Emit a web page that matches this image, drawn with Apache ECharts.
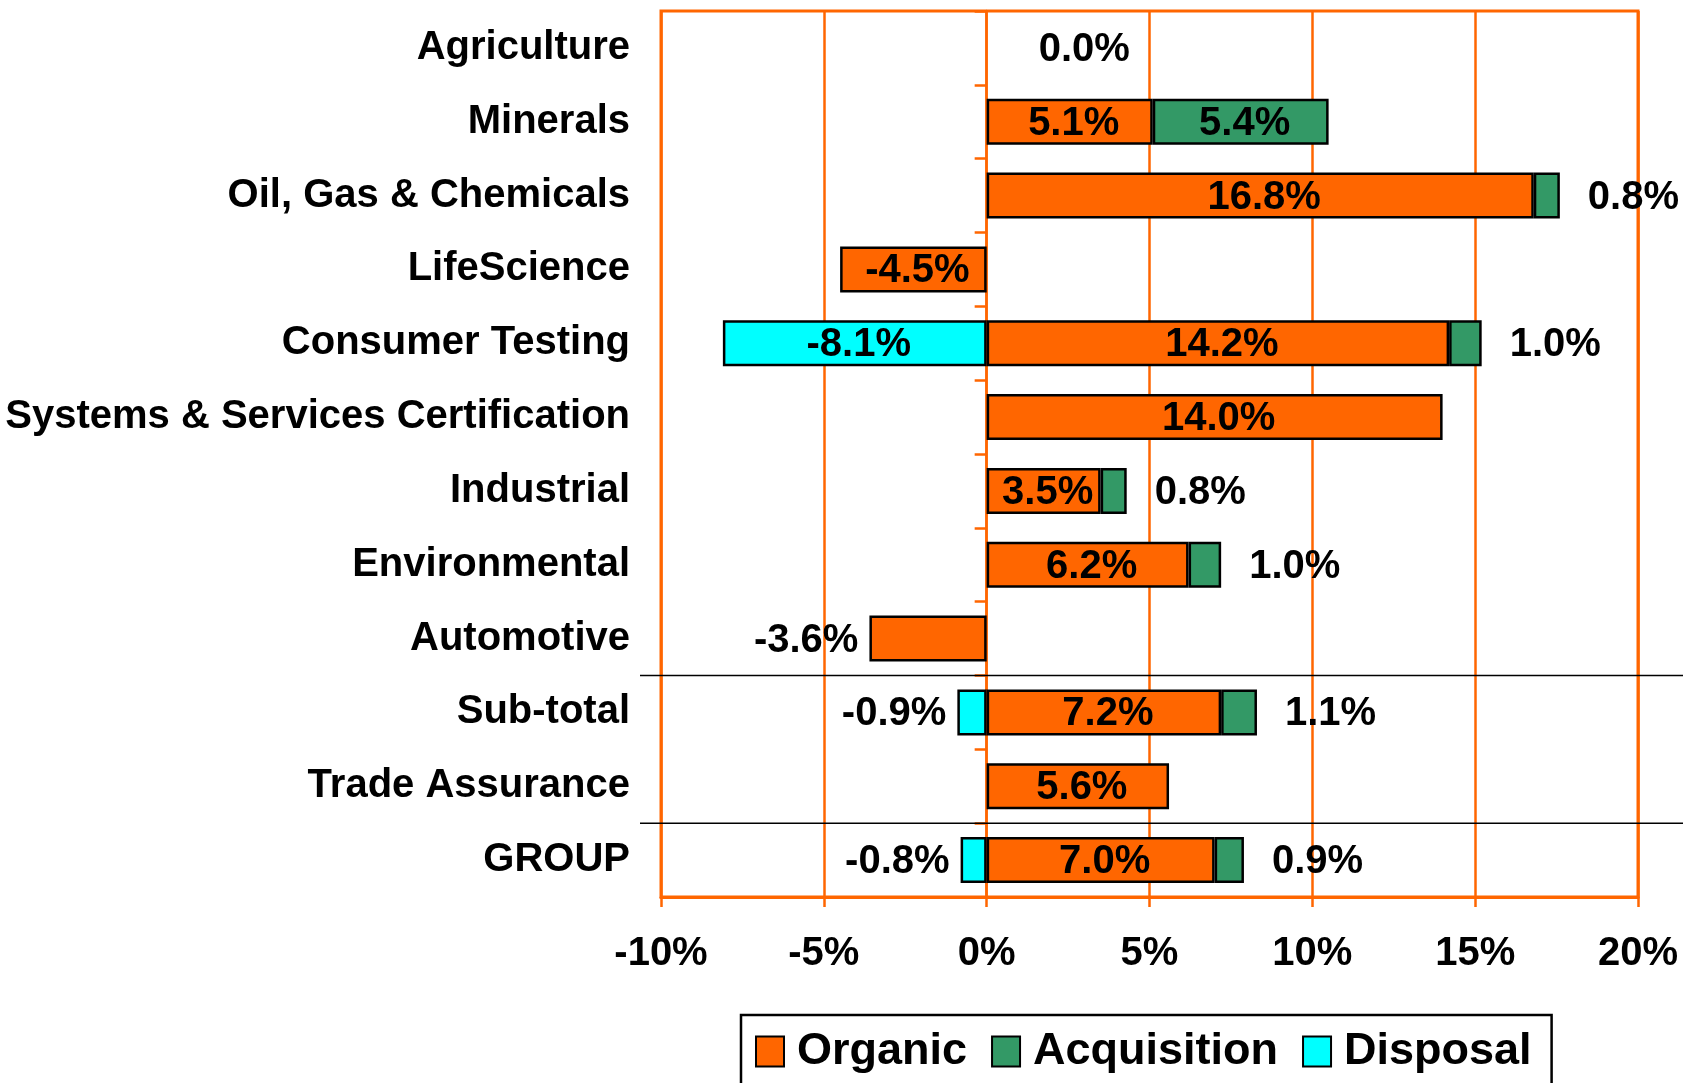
<!DOCTYPE html>
<html lang="en">
<head>
    <meta charset="UTF-8">
    <title>Growth by business line</title>
    <script type="text/javascript" src="https://cdn.jsdelivr.net/npm/echarts@6/dist/echarts.min.js"></script>
    <style>
        html, body { margin: 0; padding: 0; background: #fff; }
        #main { width: 1683px; height: 1083px; }
    </style>
</head>
<body>
<div id="main"></div>
<script type="text/javascript">
    var categories = ['Agriculture', 'Minerals', 'Oil, Gas & Chemicals', 'LifeScience', 'Consumer Testing',
        'Systems & Services Certification', 'Industrial', 'Environmental', 'Automotive', 'Sub-total',
        'Trade Assurance', 'GROUP'];
    var organic = [0.0, 5.1, 16.8, -4.5, 14.2, 14.0, 3.5, 6.2, -3.6, 7.2, 5.6, 7.0];
    var acquisition = [null, 5.4, 0.8, null, 1.0, null, 0.8, 1.0, null, 1.1, null, 0.9];
    var disposal = [null, null, null, null, -8.1, null, null, null, null, -0.9, null, -0.8];
    var xTicks = [-10, -5, 0, 5, 10, 15, 20];

    var FONT = '"Liberation Sans", Arial, sans-serif';
    var ORANGE = '#FF6600';

    // label placement: inside when it fits, else beside the bar
    function buildData(values) {
        var out = [];
        for (var i = 0; i < values.length; i++) {
            var v = values[i];
            if (v === null) { out.push(null); continue; }
            var item = { value: v };
            if (v === 0) {
                item.label = { position: 'right', distance: 48 };
                item.itemStyle = { borderWidth: 0 };
            } else if (v > 0 && v < 2) {
                item.label = { position: 'right', distance: 24 };
            } else if (v < 0 && v > -4) {
                item.label = { position: 'left', distance: 15 };
            }
            out.push(item);
        }
        return out;
    }

    function makeSeries(name, values, color) {
        return {
            name: name,
            type: 'bar',
            stack: 'total',
            barWidth: 46,
            data: buildData(values),
            itemStyle: { color: color, borderColor: '#000', borderWidth: 2.5 },
            label: {
                show: true,
                position: 'inside',
                offset: [4, 2],
                color: '#000',
                fontFamily: FONT,
                fontWeight: 'bold',
                fontSize: 40,
                formatter: function (p) { return p.value.toFixed(1) + '%'; }
            }
        };
    }

    var chart = echarts.init(document.getElementById('main'));
    var option = {
        animation: false,
        grid: {
            left: 661, right: 45, top: 11, height: 886,
            containLabel: false, outerBoundsMode: 'none',
            show: true, borderColor: ORANGE, borderWidth: 3
        },
        legend: {
            left: 741,
            top: 1015,
            data: ['Organic', 'Acquisition', 'Disposal'],
            icon: 'rect',
            itemWidth: 28,
            itemHeight: 30,
            itemGap: 24,
            padding: [14, 20, 40, 14],
            borderColor: '#000',
            borderWidth: 2.5,
            backgroundColor: '#fff',
            textStyle: { color: '#000', fontFamily: FONT, fontWeight: 'bold', fontSize: 45, padding: [0, 0, 0, 8] }
        },
        xAxis: {
            type: 'value',
            min: xTicks[0],
            max: xTicks[xTicks.length - 1],
            interval: 5,
            axisLine: { show: true, lineStyle: { color: ORANGE, width: 3 } },
            axisTick: { show: true, length: 10, lineStyle: { color: ORANGE, width: 2.5 } },
            splitLine: { show: true, lineStyle: { color: ORANGE, width: 2.5 } },
            axisLabel: {
                margin: 37,
                color: '#000',
                fontFamily: FONT,
                fontWeight: 'bold',
                fontSize: 40,
                formatter: function (v) { return v + '%'; }
            }
        },
        yAxis: {
            type: 'category',
            inverse: true,
            data: categories,
            axisLine: { show: true, onZero: true, lineStyle: { color: ORANGE, width: 2.5 } },
            axisTick: { show: true, length: 12, lineStyle: { color: ORANGE, width: 2.5 } },
            axisLabel: {
                margin: 31,
                color: '#000',
                fontFamily: FONT,
                fontWeight: 'bold',
                fontSize: 40,
                padding: [3, 0, 0, 0]
            }
        },
        series: [
            makeSeries('Organic', organic, ORANGE),
            makeSeries('Acquisition', acquisition, '#339966'),
            makeSeries('Disposal', disposal, '#00FFFF')
        ]
    };
    chart.setOption(option);

    // separator lines between Automotive / Sub-total and Trade Assurance / GROUP
    function boundary(a, b) {
        var ya = chart.convertToPixel({ yAxisIndex: 0 }, categories[a]);
        var yb = chart.convertToPixel({ yAxisIndex: 0 }, categories[b]);
        return (ya + yb) / 2;
    }
    var y1 = boundary(8, 9);
    var y2 = boundary(10, 11);
    chart.setOption({
        graphic: [
            { type: 'line', shape: { x1: 640, y1: y1, x2: 1683, y2: y1 }, style: { stroke: '#000', lineWidth: 1.5 }, z: 10 },
            { type: 'line', shape: { x1: 640, y1: y2, x2: 1683, y2: y2 }, style: { stroke: '#000', lineWidth: 1.5 }, z: 10 }
        ]
    });
</script>
</body>
</html>
